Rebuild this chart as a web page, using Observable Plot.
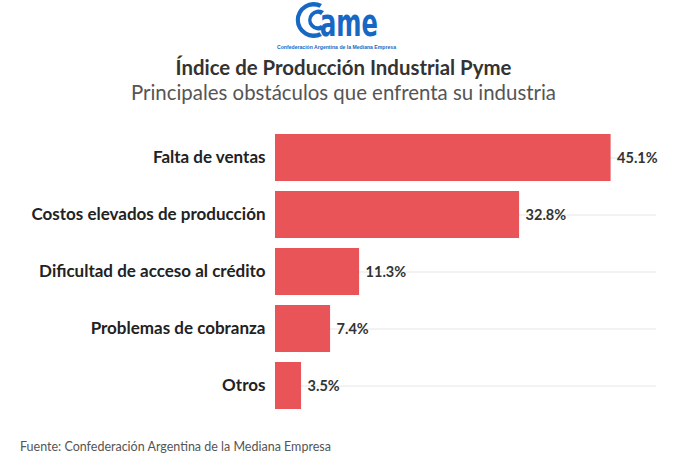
<!DOCTYPE html>
<html>
<head>
<meta charset="utf-8">
<script src="https://cdn.jsdelivr.net/npm/d3@7"></script>
<script src="https://cdn.jsdelivr.net/npm/@observablehq/plot@0.6"></script>
<style>
  html, body { margin: 0; padding: 0; background: #fff; }
  body { width: 687px; height: 473px; position: relative; overflow: hidden; font-family: "Source Sans Pro", Lato, "Open Sans", sans-serif; }
  #logo { position: absolute; left: 0; top: 0; width: 687px; height: 52px; }
  #title { position: absolute; left: 0; width: 687px; top: 54px; text-align: center; font-weight: 700; font-size: 20.4px; color: #333; line-height: 26px; }
  #subtitle { position: absolute; left: 0; width: 687px; top: 79px; text-align: center; font-weight: 400; font-size: 20.4px; color: #555; line-height: 26px; }
  #chart { position: absolute; left: 0; top: 115px; }
  #caption { position: absolute; left: 20px; top: 439px; font-size: 12.5px; color: #555; }
</style>
</head>
<body>
<svg id="logo" viewBox="0 0 687 52">
  <g fill="#1768c4">
    <!-- outer ring of the C -->
    <path d="M322 4 A18 18 0 1 0 322 36 L319.5 32.2 A13.6 13.6 0 1 1 319.5 7.8 Z"/>
    <!-- inner c -->
    <path d="M324 11 A10.5 10.5 0 1 0 324 29 L321 25 A6 6 0 1 1 321 15 Z"/>
    <text x="320" y="35.5" textLength="58" lengthAdjust="spacingAndGlyphs" font-family="DejaVu Sans, sans-serif" font-weight="700" font-size="37.5">ame</text>
    <text x="277" y="48.5" textLength="119" lengthAdjust="spacingAndGlyphs" font-family="Liberation Sans, Arial, sans-serif" font-weight="700" font-size="6">Confederación Argentina de la Mediana Empresa</text>
  </g>
</svg>
<div id="title">Índice de Producción Industrial Pyme</div>
<div id="subtitle">Principales obstáculos que enfrenta su industria</div>
<div id="chart"></div>
<div id="caption">Fuente: Confederación Argentina de la Mediana Empresa</div>
<script>
const categories = [
  "Falta de ventas",
  "Costos elevados de producción",
  "Dificultad de acceso al crédito",
  "Problemas de cobranza",
  "Otros"
];
const values = [45.1, 32.8, 11.3, 7.4, 3.5];

const data = categories.map((c, i) => ({ category: c, value: values[i] }));

const chart = Plot.plot({
  width: 687,
  height: 310,
  marginLeft: 275,
  marginRight: 31,
  marginTop: 12.5,
  marginBottom: 9,
  style: { fontFamily: "'Source Sans Pro', Lato, 'Open Sans', sans-serif", background: "transparent" },
  x: { domain: [0, 51.2], axis: null },
  y: { domain: categories, paddingInner: 0.17, paddingOuter: 0.085, label: null },
  marks: [
    Plot.gridY({ stroke: "#e6e6e6", strokeOpacity: 1 }),
    Plot.barX(data, { x: "value", y: "category", fill: "#e85457" }),
    Plot.text(data, {
      x: "value", y: "category", text: d => d.value.toFixed(1) + "%",
      textAnchor: "start", dx: 6, fontSize: 14.5, fontWeight: 700, fill: "#333"
    }),
    Plot.axisY({ tickSize: 0, tickPadding: 10, fontSize: 17, fontWeight: 700, fill: "#222", label: null })
  ]
});
document.getElementById("chart").appendChild(chart);
</script>
</body>
</html>
